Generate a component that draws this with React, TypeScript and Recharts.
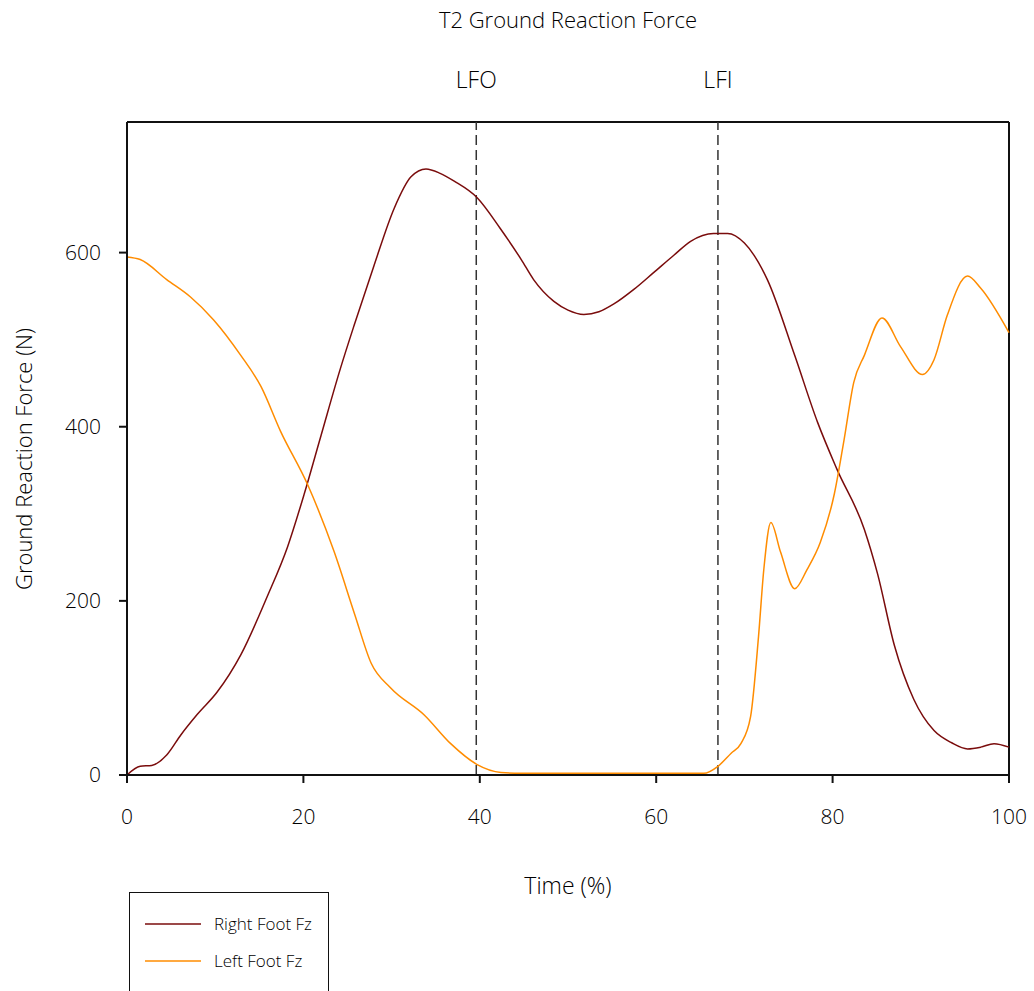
import { LineChart, Line, XAxis, YAxis, ReferenceLine } from 'recharts';

// Right foot vertical force, % of gait cycle
const rightTime = [0, 1.5, 2.8, 4.5, 6.1, 8, 10.2, 12.9, 15.9, 18.2, 20.1, 22, 24.2, 25.8, 28, 30.3, 32.2, 33.9, 35.5, 37.1, 39.7, 42.3, 44.7, 46.1, 48.4, 50, 51.8, 53.5, 55.2, 57.5, 59.7, 62, 63.9, 66.5, 68.1, 70, 72.6, 75.7, 78.3, 80.5, 83.6, 85.1, 87, 89.2, 91.5, 93.5, 95.3, 96.8, 98.3, 100];
const rightFz = [0, 10, 11, 23, 46, 70, 95, 138, 205, 262, 323, 390, 467, 518, 585, 651, 687, 696, 691, 682, 663, 628, 592, 569, 544, 534, 529, 532, 541, 558, 577, 597, 613, 622, 622, 611, 569, 482, 405, 351, 282, 231, 149, 87, 51, 37, 30, 32, 36, 32];

// Left foot vertical force
const leftTime = [0, 1.5, 4.5, 7.2, 9.8, 12.9, 15.2, 17.4, 20.5, 23.5, 25.8, 27.7, 29.9, 33.7, 36.7, 39.7, 42.4, 44.7, 55, 65.4, 67, 68.5, 69.6, 70.7, 71.6, 72.2, 73, 74.1, 75.7, 77.1, 78.6, 80.2, 81.3, 82.4, 83.6, 85.6, 87.7, 90.2, 91.5, 93, 95.3, 96.8, 100];
const leftFz = [595, 592, 569, 549, 523, 482, 446, 395, 333, 256, 185, 128, 100, 69, 36, 12, 3, 2, 2, 2, 10, 25, 36, 67, 159, 236, 290, 256, 214, 236, 267, 323, 385, 451, 482, 525, 492, 460, 477, 528, 573, 559, 508];

// gait events
const eventLabels = ['LFO', 'LFI'];
const eventTimes = [39.6, 67];

const xTicks = [0, 20, 40, 60, 80, 100];
const yTicks = [0, 200, 400, 600];

const rightData = rightTime.map((t, i) => ({ t, fz: rightFz[i] }));
const leftData = leftTime.map((t, i) => ({ t, fz: leftFz[i] }));

const FONT = '"Open Sans", sans-serif';

export default function App() {
  const text = { fontFamily: FONT, fontWeight: 300, color: '#000' };
  return (
    <div style={{ position: 'absolute', left: 0, top: 0, width: 1034, height: 991, background: '#fff', overflow: 'hidden' }}>
      <LineChart
        width={1034}
        height={991}
        margin={{ top: 122, right: 25, left: 0, bottom: 0 }}
        style={{ fontFamily: FONT, fontWeight: 300 }}
      >
        <XAxis
          type="number"
          dataKey="t"
          domain={[0, 100]}
          ticks={xTicks}
          height={216}
          tickSize={8}
          tickMargin={26}
          axisLine={{ stroke: '#111', strokeWidth: 2 }}
          tickLine={{ stroke: '#111', strokeWidth: 2 }}
          tick={{ fill: '#000', fontSize: 21 }}
        />
        <YAxis
          type="number"
          domain={[0, 750]}
          ticks={yTicks}
          width={127}
          tickSize={8}
          tickMargin={18}
          axisLine={{ stroke: '#111', strokeWidth: 2 }}
          tickLine={{ stroke: '#111', strokeWidth: 2 }}
          tick={{ fill: '#000', fontSize: 21 }}
        />
        <ReferenceLine y={750} stroke="#111" strokeWidth={2} />
        <ReferenceLine x={100} stroke="#111" strokeWidth={2} />
        {eventTimes.map((t, i) => (
          <ReferenceLine
            key={eventLabels[i]}
            x={t}
            stroke="#333"
            strokeWidth={1.5}
            strokeDasharray="10 5"
            label={{ value: eventLabels[i], position: 'top', offset: 34, fill: '#000', fontSize: 23 }}
          />
        ))}
        <Line
          data={rightData}
          dataKey="fz"
          type="monotone"
          stroke="#7a0c0c"
          strokeWidth={1.5}
          dot={false}
          isAnimationActive={false}
        />
        <Line
          data={leftData}
          dataKey="fz"
          type="monotone"
          stroke="#ff8c00"
          strokeWidth={1.5}
          dot={false}
          isAnimationActive={false}
        />
      </LineChart>

      <div style={{ ...text, position: 'absolute', left: 0, width: 1136, top: 4, textAlign: 'center', fontSize: 22 }}>
        T2 Ground Reaction Force
      </div>
      <div style={{ ...text, position: 'absolute', left: 0, width: 1136, top: 869, textAlign: 'center', fontSize: 23 }}>
        Time (%)
      </div>
      <div
        style={{
          ...text,
          position: 'absolute',
          left: 23,
          top: 459,
          fontSize: 22,
          whiteSpace: 'nowrap',
          transform: 'translate(-50%, -50%) rotate(-90deg)',
        }}
      >
        Ground Reaction Force (N)
      </div>

      <div
        style={{
          position: 'absolute',
          left: 129,
          top: 892,
          width: 200,
          height: 120,
          border: '1.5px solid #111',
          boxSizing: 'border-box',
        }}
      >
        <div style={{ position: 'absolute', left: 15, top: 30, width: 56, height: 2, background: '#7a0c0c', opacity: 0.75 }} />
        <div style={{ ...text, position: 'absolute', left: 84, top: 19, fontSize: 17 }}>Right Foot Fz</div>
        <div style={{ position: 'absolute', left: 15, top: 67, width: 56, height: 2, background: '#ff8c00', opacity: 0.75 }} />
        <div style={{ ...text, position: 'absolute', left: 84, top: 56, fontSize: 17 }}>Left Foot Fz</div>
      </div>
    </div>
  );
}
